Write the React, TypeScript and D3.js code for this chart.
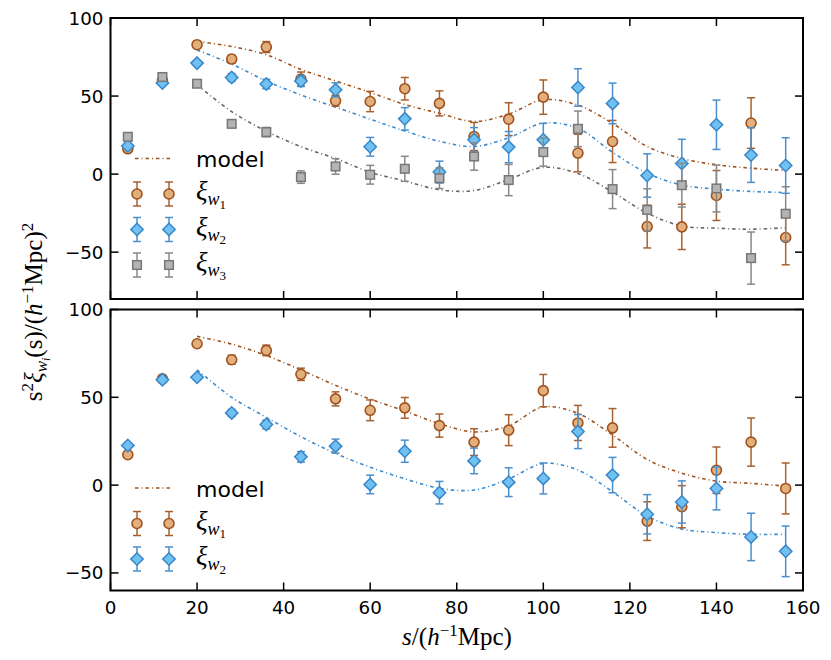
import React from "react";
import * as d3 from "d3";

const sBins = [4, 12, 20, 28, 36, 44, 52, 60, 68, 76, 84, 92, 100, 108, 116, 124, 132, 140, 148, 156];

const topW1 = [16.2, 60, 82.9, 73.7, 81.4, 60.9, 47, 46.5, 54.7, 45.3, 24.1, 35.2, 49.3, 13.5, 20.9, -33.6, -33.8, -13.7, 32.7, -40.6];
const topW1Err = [1, 1, 1.5, 2.5, 3.5, 4.5, 3.5, 6.5, 7.2, 8, 9, 10.5, 11, 12, 13.5, 13.7, 14.5, 16, 16.2, 17.5];
const topW2 = [18, 58.3, 71.1, 61.9, 57.7, 59.6, 54, 17.5, 35.4, 1.3, 22, 17.3, 22, 55.5, 45.3, -0.9, 6.8, 31.6, 12.2, 5.5];
const topW2Err = [1, 1, 1.5, 2.5, 3, 3.5, 4.5, 6, 7.2, 7, 7.8, 10, 10.5, 12, 13, 13.9, 15.5, 15.8, 17.5, 17.8];
const topW3 = [23.9, 62.2, 57.9, 32.2, 26.9, -1.9, 4.9, -0.4, 3.4, -2.6, 11.3, -3.8, 14.1, 29, -9.6, -22.9, -7.1, -9.2, -53.8, -25.4];
const topW3Err = [1, 1, 1.5, 2, 3, 4, 5, 6, 8, 6.6, 8.8, 10, 9, 11.4, 12.5, 13.5, 14, 15, 16.7, 17.3];

const botW1 = [17.3, 60.5, 80.5, 71.4, 76.7, 63.1, 49.1, 42.6, 44, 33.9, 24.5, 31.3, 53.8, 35.4, 32.6, -20.5, -12.3, 8.5, 24.5, -1.9];
const botW1Err = [1, 1, 1.5, 2.5, 3, 3.5, 4, 5.9, 5.9, 6.6, 7.6, 8.8, 9.2, 10, 11, 11, 12, 13.2, 13.7, 14.5];
const botW2 = [22.6, 60, 61.4, 41.1, 34.5, 16.1, 22.2, 0.4, 19.3, -4.3, 13.8, 1.7, 3.8, 30.5, 5.7, -16.6, -9.6, -1.9, -29.5, -37.7];
const botW2Err = [1, 1, 1.5, 2, 2.5, 3, 4, 5.3, 6.3, 6.4, 7.3, 8.2, 8.8, 9.7, 10.1, 11.2, 12, 12.2, 13.5, 14.4];

const modelS = [20, 28, 36, 44, 52, 60, 68, 76, 84, 92, 100, 108, 116, 124, 132, 140, 148, 156];
const topModelW1 = [85, 81.7, 76.5, 67, 59.7, 52.3, 44.6, 39, 33.7, 38.5, 47.6, 44.2, 32.5, 17.7, 10, 6, 3.8, 2.3];
const topModelW2 = [79.5, 70.5, 59.6, 50.7, 42.9, 35.2, 27.6, 21, 17.7, 23.3, 32.6, 29.3, 14, 0.6, -7, -9.6, -11.1, -11.8];
const topModelW3 = [57.2, 40, 27.5, 17.6, 10, 1.2, -4.4, -10, -10.5, -3.4, 4.3, 0.4, -11.5, -25, -33.2, -34.6, -35.3, -34.3];
const botModelW1 = [84.7, 80.3, 73.8, 65.6, 56.8, 49, 42.2, 35, 30.3, 33.8, 44.5, 40.8, 28.5, 14.6, 6.8, 2.3, 1, -0.6];
const botModelW2 = [65.7, 50, 38.6, 27.6, 18, 10.2, 3.6, -1.8, -2.8, 3.5, 12.3, 8.6, -3.8, -17.6, -25, -27, -28, -28];

const xTicks = [0, 20, 40, 60, 80, 100, 120, 140, 160];
const yTicks = [-50, 0, 50, 100];

const STY = {
  w1: { fill: "#E2B07C", stroke: "#A0521E", bar: "#A8602E", line: "#A0521E", shape: "circle" },
  w2: { fill: "#6EC1F0", stroke: "#3A86C8", bar: "#4A8FCC", line: "#3A8AD0", shape: "diamond" },
  w3: { fill: "#B4B4B4", stroke: "#777777", bar: "#888888", line: "#666666", shape: "square" },
};

const X0 = 110.5, X1 = 803;
const x = d3.scaleLinear().domain([0, 160]).range([X0, X1]);
const yTop = d3.scaleLinear().domain([-80, 100]).range([299, 18]);
const yBot = d3.scaleLinear().domain([-60, 100]).range([590.5, 309.5]);

const DASH = "3.5 3 1 3";
const TICKFONT = "DejaVu Sans, sans-serif";

function Marker({ cx, cy, st }: any) {
  if (st.shape === "circle")
    return <circle cx={cx} cy={cy} r={5} fill={st.fill} stroke={st.stroke} strokeWidth={1.6} />;
  if (st.shape === "diamond") {
    const h = 6.2;
    return (
      <path
        d={`M${cx},${cy - h}L${cx + h},${cy}L${cx},${cy + h}L${cx - h},${cy}Z`}
        fill={st.fill}
        stroke={st.stroke}
        strokeWidth={1.5}
      />
    );
  }
  const s = 4.3;
  return <rect x={cx - s} y={cy - s} width={2 * s} height={2 * s} fill={st.fill} stroke={st.stroke} strokeWidth={1.5} />;
}

function ErrBar({ cx, y1, y2, color }: any) {
  return (
    <g stroke={color} strokeWidth={1.5}>
      <line x1={cx} x2={cx} y1={y1} y2={y2} />
      <line x1={cx - 4} x2={cx + 4} y1={y1} y2={y1} />
      <line x1={cx - 4} x2={cx + 4} y1={y2} y2={y2} />
    </g>
  );
}

function Series({ vals, errs, y, st }: any) {
  return (
    <g>
      {sBins.map((s, i) => (
        <ErrBar key={"e" + i} cx={x(s)} y1={y(vals[i] + errs[i])} y2={y(vals[i] - errs[i])} color={st.bar} />
      ))}
      {sBins.map((s, i) => (
        <Marker key={"m" + i} cx={x(s)} cy={y(vals[i])} st={st} />
      ))}
    </g>
  );
}

function Model({ vals, y, color }: any) {
  const gen = d3
    .line<number>()
    .x((_, i) => x(modelS[i]))
    .y((v) => y(v))
    .curve(d3.curveCatmullRom.alpha(0.5));
  return <path d={gen(vals) || ""} fill="none" stroke={color} strokeWidth={1.6} strokeDasharray={DASH} />;
}

function Frame({ y, showX }: any) {
  const [yb, yt] = y.range();
  return (
    <g>
      {xTicks.map((t) => (
        <g key={"xt" + t} stroke="#000" strokeWidth={1.5}>
          <line x1={x(t)} x2={x(t)} y1={yb} y2={yb - 8} />
          <line x1={x(t)} x2={x(t)} y1={yt} y2={yt + 8} />
        </g>
      ))}
      {yTicks.map((t) => (
        <g key={"yt" + t} stroke="#000" strokeWidth={1.5}>
          <line x1={X0} x2={X0 + 8} y1={y(t)} y2={y(t)} />
          <line x1={X1} x2={X1 - 8} y1={y(t)} y2={y(t)} />
        </g>
      ))}
      {yTicks.map((t) => (
        <text key={"yl" + t} x={X0 - 7} y={y(t) + 6.5} textAnchor="end" fontFamily={TICKFONT} fontSize={18.3} fill="#000">
          {t < 0 ? "\u2212" + Math.abs(t) : String(t)}
        </text>
      ))}
      {showX &&
        xTicks.map((t) => (
          <text key={"xl" + t} x={x(t)} y={yb + 23.5} textAnchor="middle" fontFamily={TICKFONT} fontSize={18.3} fill="#000">
            {t}
          </text>
        ))}
      <rect x={X0} y={yt} width={X1 - X0} height={yb - yt} fill="none" stroke="#000" strokeWidth={2} />
    </g>
  );
}

function XiLabel({ x0, y0, idx }: any) {
  return (
    <text x={x0} y={y0} fontFamily="Liberation Serif, serif" fill="#000">
      <tspan fontStyle="italic" fontSize={27}>ξ</tspan>
      <tspan fontStyle="italic" fontSize={18} dy={5}>w</tspan>
      <tspan fontSize={13} dy={3.5}>{idx}</tspan>
    </text>
  );
}

function Legend({ top, entries }: any) {
  const lx1 = 137, lx2 = 169;
  return (
    <g>
      <line x1={135} x2={172} y1={top} y2={top} stroke={STY.w1.line} strokeWidth={1.6} strokeDasharray={DASH} />
      <text x={196} y={top + 8.5} fontFamily={TICKFONT} fontSize={22} fill="#000">model</text>
      {entries.map((e: any, i: number) => {
        const cy = top + 35.5 * (i + 1);
        return (
          <g key={i}>
            {[lx1, lx2].map((cx) => (
              <g key={cx}>
                <ErrBar cx={cx} y1={cy - 12} y2={cy + 12} color={e.st.bar} />
                <Marker cx={cx} cy={cy} st={e.st} />
              </g>
            ))}
            <XiLabel x0={196} y0={cy + 6} idx={e.idx} />
          </g>
        );
      })}
    </g>
  );
}

export default function App() {
  return (
    <svg width={831} height={660} style={{ position: "absolute", left: 0, top: 0, background: "#fff" }}>
      <rect width={831} height={660} fill="#fff" />
      {/* top panel */}
      <Model vals={topModelW1} y={yTop} color={STY.w1.line} />
      <Model vals={topModelW2} y={yTop} color={STY.w2.line} />
      <Model vals={topModelW3} y={yTop} color={STY.w3.line} />
      <Series vals={topW1} errs={topW1Err} y={yTop} st={STY.w1} />
      <Series vals={topW2} errs={topW2Err} y={yTop} st={STY.w2} />
      <Series vals={topW3} errs={topW3Err} y={yTop} st={STY.w3} />
      <Legend top={158.5} entries={[{ st: STY.w1, idx: "1" }, { st: STY.w2, idx: "2" }, { st: STY.w3, idx: "3" }]} />
      <Frame y={yTop} showX={false} />
      {/* bottom panel */}
      <Model vals={botModelW1} y={yBot} color={STY.w1.line} />
      <Model vals={botModelW2} y={yBot} color={STY.w2.line} />
      <Series vals={botW1} errs={botW1Err} y={yBot} st={STY.w1} />
      <Series vals={botW2} errs={botW2Err} y={yBot} st={STY.w2} />
      <Legend top={488} entries={[{ st: STY.w1, idx: "1" }, { st: STY.w2, idx: "2" }]} />
      <Frame y={yBot} showX={true} />
      {/* axis labels */}
      <text x={457} y={645} textAnchor="middle" fontFamily="Liberation Serif, serif" fontSize={25} fill="#000">
        <tspan fontStyle="italic">s</tspan>
        <tspan>/(</tspan>
        <tspan fontStyle="italic">h</tspan>
        <tspan fontSize={17} dy={-9}>−1</tspan>
        <tspan dy={9}>Mpc)</tspan>
      </text>
      <text transform="translate(42,312) rotate(-90)" textAnchor="middle" fontFamily="Liberation Serif, serif" fontSize={25} fill="#000">
        <tspan>s</tspan>
        <tspan fontSize={17} dy={-9}>2</tspan>
        <tspan fontStyle="italic" dy={9}>ξ</tspan>
        <tspan fontStyle="italic" fontSize={17} dy={5}>w</tspan>
        <tspan fontStyle="italic" fontSize={12} dy={3}>i</tspan>
        <tspan dy={-8}>(s)/(</tspan>
        <tspan fontStyle="italic">h</tspan>
        <tspan fontSize={17} dy={-9}>−1</tspan>
        <tspan dy={9}>Mpc)</tspan>
        <tspan fontSize={17} dy={-9}>2</tspan>
      </text>
    </svg>
  );
}
